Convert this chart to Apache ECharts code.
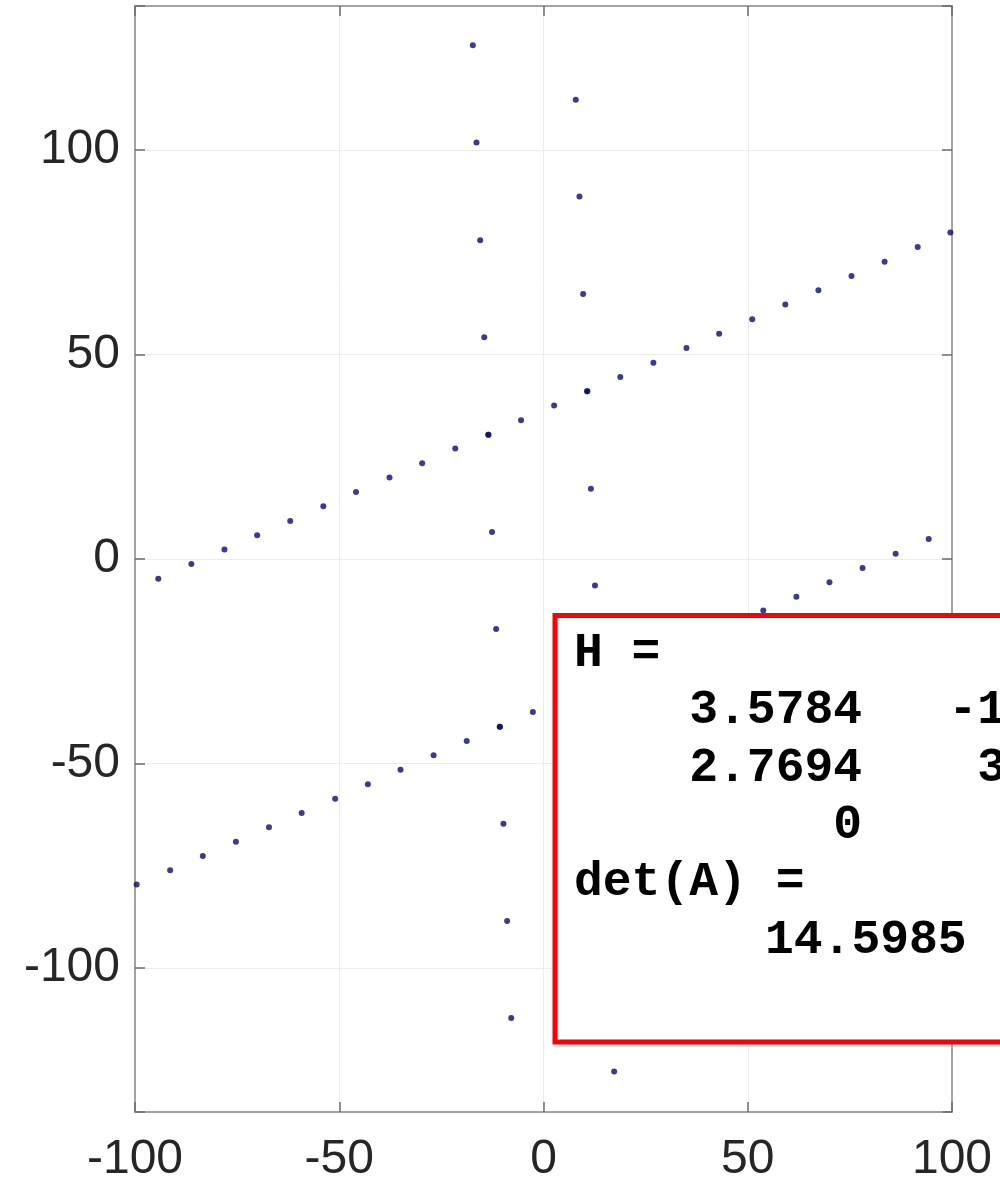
<!DOCTYPE html>
<html>
<head>
<meta charset="utf-8">
<script src="https://cdn.jsdelivr.net/npm/echarts@6/dist/echarts.min.js"></script>
<style>
  html, body { margin: 0; padding: 0; background: #fff; }
  #chart { width: 1000px; height: 1180px; }
</style>
</head>
<body>
<div id="chart"></div>
<script>
// Shallow line of points (upper branch)
const upperX = [-94.3, -86.2, -78.1, -70.1, -62.0, -53.9, -45.9, -37.7, -29.7, -21.6, -13.5, -5.5,
  2.6, 10.7, 18.8, 26.9, 35.0, 43.0, 51.1, 59.2, 67.3, 75.4, 83.5, 91.6, 99.6];
const upperY = [-4.8, -1.2, 2.3, 5.8, 9.3, 12.9, 16.4, 19.9, 23.4, 27.0, 30.4, 33.9,
  37.5, 41.0, 44.5, 48.0, 51.6, 55.1, 58.6, 62.2, 65.7, 69.2, 72.7, 76.3, 79.8];

// Shallow line of points (lower branch)
const lowerX = [-99.6, -91.4, -83.4, -75.3, -67.2, -59.2, -51.0, -43.0, -35.0, -26.9, -18.8, -10.7,
  -2.6, 5.5, 13.6, 21.6, 29.7, 37.7, 45.9, 53.8, 61.9, 70.0, 78.1, 86.2, 94.3];
const lowerY = [-79.6, -76.1, -72.6, -69.1, -65.6, -62.1, -58.6, -55.1, -51.5, -48.0, -44.5, -41.0,
  -37.4, -33.9, -30.4, -26.9, -23.4, -19.9, -16.4, -12.6, -9.2, -5.7, -2.2, 1.3, 4.9];

// Steep column of points (left)
const steepLeftX = [-17.3, -16.4, -15.5, -14.5, -13.5, -12.6, -11.6, -10.7, -9.8, -8.9, -7.9];
const steepLeftY = [125.6, 101.8, 77.9, 54.2, 30.4, 6.6, -17.1, -41.0, -64.7, -88.5, -112.2];

// Steep column of points (right)
const steepRightX = [7.9, 8.8, 9.7, 10.7, 11.6, 12.6, 13.6, 14.5, 15.5, 16.4, 17.3];
const steepRightY = [112.3, 88.6, 64.8, 41.0, 17.2, -6.5, -30.3, -54.1, -77.9, -101.7, -125.3];

// Axis limits
const xLimits = [-100, 100];
const yLimits = [-135.2, 135.2];

// Console-style readout shown in the box
const matrixLines = [
  'H =',
  '    3.5784   -1',
  '    2.7694    3',
  '         0',
  'det(A) ='
];
const detValue = '14.5985';

function pairs(xs, ys) {
  return xs.map((x, i) => [x, ys[i]]);
}

const chart = echarts.init(document.getElementById('chart'), null, { renderer: 'canvas' });

const labelFont = { fontFamily: '"Liberation Sans", Arial, sans-serif', fontSize: 48, color: '#262626' };
const boxLine = { show: true, onZero: false, lineStyle: { color: '#a3a3a3', width: 2 } };
const tickIn = { show: true, inside: true, length: 10, lineStyle: { color: '#6b6b6b', width: 1.5 } };
const grid = { show: true, lineStyle: { color: '#ececec', width: 1 } };

const dotStyle = { color: '#0a0a78' };
const dotSize = 6;
const monoFont = 'bold 48px "Liberation Mono", "Courier New", monospace';

chart.setOption({
  animation: false,
  backgroundColor: '#ffffff',
  grid: { left: 135, right: 48, top: 6, bottom: 68, containLabel: false, outerBoundsMode: 'none' },
  xAxis: [
    {
      type: 'value', position: 'bottom', min: xLimits[0], max: xLimits[1], interval: 50,
      axisLine: boxLine, axisTick: tickIn, splitLine: grid,
      axisLabel: Object.assign({ margin: 24 }, labelFont)
    },
    {
      type: 'value', position: 'top', min: xLimits[0], max: xLimits[1], interval: 50,
      axisLine: boxLine, axisTick: tickIn, splitLine: { show: false }, axisLabel: { show: false }
    }
  ],
  yAxis: [
    {
      type: 'value', position: 'left', min: yLimits[0], max: yLimits[1], splitNumber: 5,
      axisLine: boxLine, axisTick: tickIn, splitLine: grid,
      axisLabel: Object.assign({
        margin: 15,
        formatter: v => (Math.abs(v) % 50 === 0 ? String(v) : '')
      }, labelFont)
    },
    {
      type: 'value', position: 'right', min: yLimits[0], max: yLimits[1], splitNumber: 5,
      axisLine: boxLine, axisTick: tickIn, splitLine: { show: false }, axisLabel: { show: false }
    }
  ],
  series: [
    { type: 'scatter', name: 'upper', data: pairs(upperX, upperY), symbolSize: dotSize, itemStyle: dotStyle },
    { type: 'scatter', name: 'lower', data: pairs(lowerX, lowerY), symbolSize: dotSize, itemStyle: dotStyle },
    { type: 'scatter', name: 'steepLeft', data: pairs(steepLeftX, steepLeftY), symbolSize: dotSize, itemStyle: dotStyle },
    { type: 'scatter', name: 'steepRight', data: pairs(steepRightX, steepRightY), symbolSize: dotSize, itemStyle: dotStyle }
  ],
  graphic: [
    {
      type: 'rect', z: 100,
      shape: { x: 555, y: 615.5, width: 500, height: 426.5 },
      style: { fill: '#ffffff', stroke: '#ff0000', lineWidth: 5 }
    },
    {
      type: 'text', z: 101,
      style: {
        x: 574, y: 625,
        text: matrixLines.join('\n'),
        font: monoFont,
        fill: '#000000',
        lineHeight: 57.4,
        verticalAlign: 'top',
        align: 'left'
      }
    },
    {
      type: 'text', z: 101,
      style: {
        x: 765, y: 625 + 57.4 * 5,
        text: detValue,
        font: monoFont,
        fill: '#000000',
        lineHeight: 57.4,
        verticalAlign: 'top',
        align: 'left'
      }
    }
  ]
});
</script>
</body>
</html>
